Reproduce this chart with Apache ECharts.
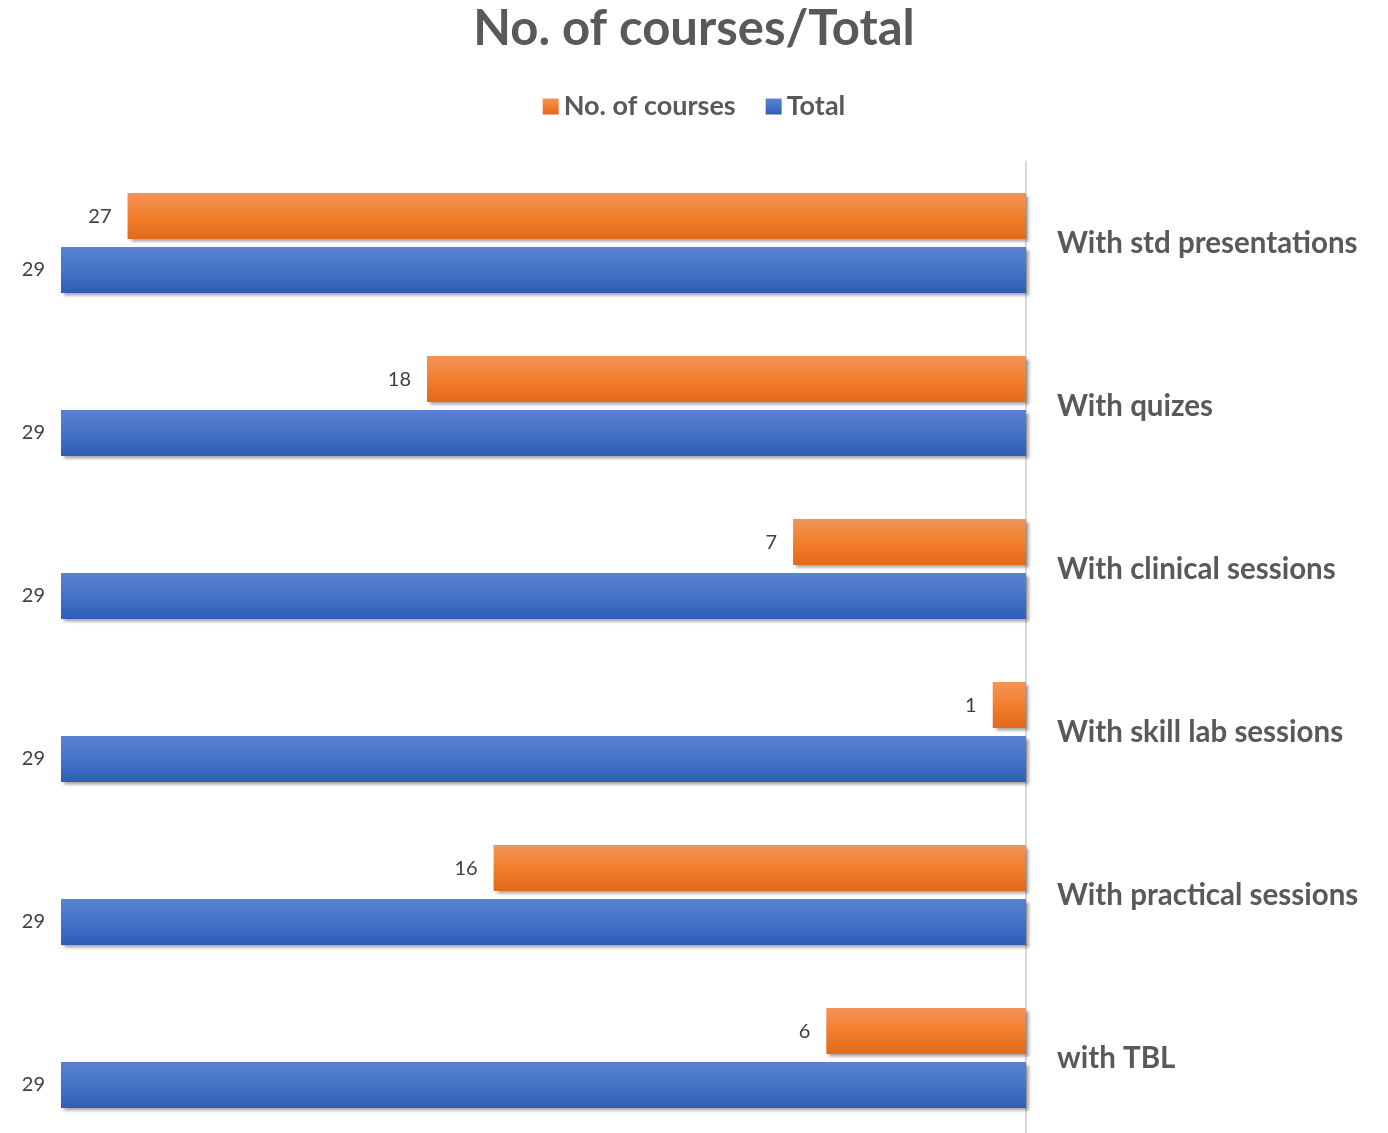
<!DOCTYPE html>
<html><head><meta charset="utf-8">
<script src="https://cdn.jsdelivr.net/npm/echarts@6/dist/echarts.min.js"></script>
<style>html,body{margin:0;padding:0;background:#fff}#c{width:1388px;height:1133px}</style>
</head><body><div id="c"></div>
<script>
var categories = ["With std presentations","With quizes","With clinical sessions","With skill lab sessions","With practical sessions","with TBL"];
var courses = [27, 18, 7, 1, 16, 6];
var totals = [29, 29, 29, 29, 29, 29];
var FONT = 'Lato';
function grad(a,b,c){return new echarts.graphic.LinearGradient(0,0,0,1,[{offset:0,color:a},{offset:0.5,color:b},{offset:1,color:c}]);}
var chart = echarts.init(document.getElementById('c'));
var lbl = {show:true, position:'left', distance:16, color:'#404040', fontSize:20, fontFamily:FONT};
chart.setOption({
  animation:false,
  title:{text:'No. of courses/Total', left:'center', top:0, textStyle:{fontFamily:FONT, fontWeight:'bold', fontSize:49, color:'#595959'}},
  legend:{top:88, left:'center', itemWidth:16, itemHeight:16, itemGap:30, icon:'rect',
    textStyle:{fontFamily:FONT, fontWeight:'bold', fontSize:27, color:'#595959'},
    data:['No. of courses','Total']},
  grid:{left:61, right:362, top:161.5, bottom:-6.5, outerBoundsMode:'none', containLabel:false},
  xAxis:{type:'value', inverse:true, min:0, max:29, show:false, splitLine:{show:false}},
  yAxis:{type:'category', inverse:true, position:'right', data:categories,
    axisLine:{show:true, lineStyle:{color:'#d9d9d9', width:2}}, axisTick:{show:false},
    axisLabel:{margin:31, fontFamily:FONT, fontWeight:'bold', fontSize:29.5, color:'#595959'}},
  series:[
    {name:'No. of courses', type:'bar', data:courses, barWidth:46, barGap:'17%',
      itemStyle:{color:grad('#f39358','#f27f2c','#e2681a'), shadowColor:'rgba(0,0,0,0.35)', shadowBlur:3, shadowOffsetX:3, shadowOffsetY:3}, label:lbl},
    {name:'Total', type:'bar', data:totals, barWidth:46,
      itemStyle:{color:grad('#5b82d1','#4573c6','#2f5db6'), shadowColor:'rgba(0,0,0,0.35)', shadowBlur:3, shadowOffsetX:3, shadowOffsetY:3}, label:lbl}
  ]
});
</script></body></html>
